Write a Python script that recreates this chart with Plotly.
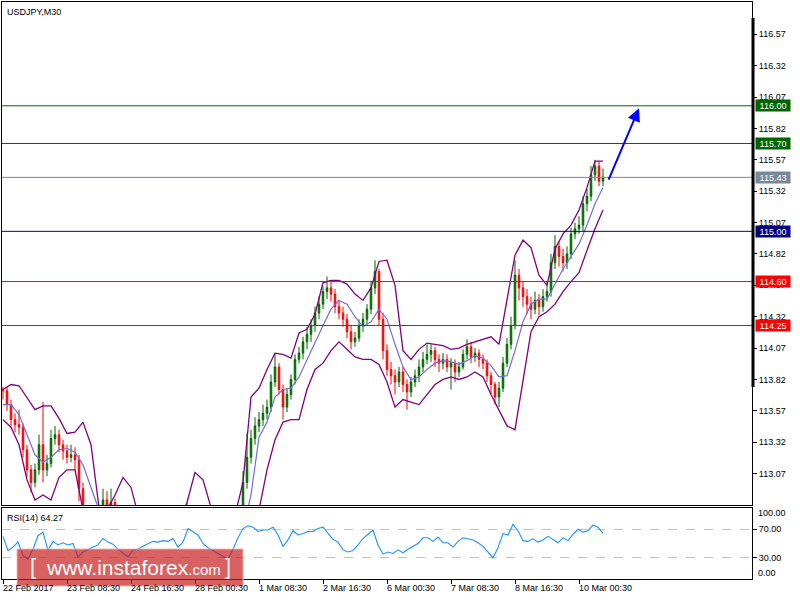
import plotly.graph_objects as go

# ---------------- data (USDJPY M30, 22 Feb - 10 Mar 2017), one candle per 2 hours ----------------
open_ = [113.74, 113.73, 113.62, 113.50, 113.46, 113.44, 113.26, 113.10, 113.00, 113.10,
         113.30, 113.10, 113.15, 113.35, 113.38, 113.30, 113.25, 113.20, 113.22, 113.18,
         112.95, 112.70, 112.62, 112.58, 112.66, 112.75, 112.86, 112.80, 112.84, 112.72,
         112.60, 112.50, 112.45, 112.40, 112.35, 112.30, 112.28, 112.32, 112.38, 112.42,
         112.45, 112.50, 112.55, 112.58, 112.62, 112.66, 112.70, 112.76, 112.72, 112.65,
         112.60, 112.55, 112.50, 112.52, 112.56, 112.60, 112.58, 112.55, 112.58, 112.62,
         112.72, 113.00, 113.20, 113.35, 113.45, 113.50, 113.55, 113.60, 113.80, 113.92,
         113.74, 113.60, 113.70, 113.82, 113.98, 114.03, 114.12, 114.18, 114.25, 114.35,
         114.42, 114.52, 114.55, 114.50, 114.40, 114.35, 114.30, 114.20, 114.12, 114.15,
         114.25, 114.30, 114.38, 114.55, 114.68, 114.30, 114.05, 113.90, 113.85, 113.80,
         113.88, 113.78, 113.72, 113.80, 113.85, 113.92, 113.98, 114.02, 114.05, 113.98,
         113.95, 113.98, 113.92, 113.95, 113.88, 113.92, 114.02, 114.08, 114.00, 114.03,
         113.98, 113.95, 113.85, 113.78, 113.68, 113.75, 113.95, 114.10, 114.25, 114.65,
         114.55, 114.48, 114.42, 114.38, 114.45, 114.40, 114.48, 114.52, 114.75, 114.88,
         114.80, 114.75, 114.82, 114.98, 115.02, 115.05, 115.22, 115.28, 115.45, 115.52,
         115.40]
high = [113.76, 113.76, 113.66, 113.55, 113.58, 113.47, 113.30, 113.14, 113.15, 113.38,
        113.64, 113.22, 113.42, 113.45, 113.42, 113.34, 113.30, 113.30, 113.28, 113.22,
        113.00, 112.74, 112.66, 112.70, 112.80, 112.95, 112.93, 112.95, 112.87, 112.76,
        112.64, 112.55, 112.50, 112.44, 112.40, 112.34, 112.36, 112.42, 112.46, 112.50,
        112.54, 112.60, 112.62, 112.66, 112.70, 112.74, 112.84, 112.79, 112.75, 112.68,
        112.64, 112.58, 112.56, 112.60, 112.65, 112.64, 112.62, 112.62, 112.66, 112.78,
        113.09, 113.39, 113.42, 113.52, 113.56, 113.62, 113.66, 113.86, 114.03, 113.95,
        113.78, 113.75, 113.86, 114.02, 114.08, 114.16, 114.24, 114.30, 114.40, 114.48,
        114.56, 114.64, 114.60, 114.54, 114.45, 114.40, 114.34, 114.25, 114.20, 114.30,
        114.35, 114.42, 114.60, 114.77, 114.70, 114.35, 114.10, 113.96, 113.90, 113.92,
        113.92, 113.82, 113.84, 113.90, 113.98, 114.04, 114.10, 114.10, 114.08, 114.02,
        114.03, 114.02, 113.99, 113.98, 113.96, 114.06, 114.14, 114.12, 114.07, 114.06,
        114.02, 113.98, 113.88, 113.80, 113.80, 114.00, 114.15, 114.32, 114.77, 114.70,
        114.60, 114.54, 114.48, 114.52, 114.50, 114.54, 114.60, 114.82, 114.97, 114.92,
        114.86, 114.88, 115.03, 115.07, 115.12, 115.28, 115.34, 115.52, 115.57, 115.56,
        115.50]
low = [113.66, 113.57, 113.45, 113.40, 113.38, 113.20, 113.04, 112.92, 112.96, 113.06,
       113.00, 113.05, 113.12, 113.30, 113.24, 113.18, 113.15, 113.16, 113.10, 112.85,
       112.62, 112.56, 112.52, 112.54, 112.62, 112.72, 112.74, 112.76, 112.68, 112.55,
       112.45, 112.40, 112.35, 112.30, 112.25, 112.22, 112.24, 112.28, 112.34, 112.38,
       112.40, 112.46, 112.50, 112.54, 112.58, 112.62, 112.66, 112.68, 112.60, 112.55,
       112.50, 112.45, 112.46, 112.50, 112.52, 112.53, 112.50, 112.52, 112.55, 112.58,
       112.68, 112.95, 113.15, 113.30, 113.40, 113.45, 113.50, 113.56, 113.76, 113.70,
       113.50, 113.56, 113.66, 113.78, 113.95, 113.98, 114.06, 114.12, 114.20, 114.30,
       114.38, 114.46, 114.44, 114.35, 114.30, 114.24, 114.15, 114.06, 114.08, 114.12,
       114.20, 114.26, 114.34, 114.50, 114.25, 113.98, 113.85, 113.78, 113.70, 113.76,
       113.72, 113.58, 113.68, 113.76, 113.80, 113.88, 113.94, 113.96, 113.92, 113.88,
       113.90, 113.88, 113.74, 113.80, 113.84, 113.90, 113.98, 113.95, 113.96, 113.92,
       113.90, 113.80, 113.70, 113.62, 113.60, 113.72, 113.92, 114.06, 114.22, 114.45,
       114.40, 114.34, 114.30, 114.34, 114.33, 114.36, 114.44, 114.48, 114.70, 114.72,
       114.68, 114.70, 114.78, 114.94, 114.98, 115.00, 115.16, 115.24, 115.40, 115.36,
       115.36]
close = [113.73, 113.62, 113.50, 113.46, 113.44, 113.26, 113.10, 113.00, 113.10, 113.30,
         113.10, 113.15, 113.35, 113.38, 113.30, 113.25, 113.20, 113.22, 113.18, 112.95,
         112.70, 112.62, 112.58, 112.66, 112.75, 112.86, 112.80, 112.84, 112.72, 112.60,
         112.50, 112.45, 112.40, 112.35, 112.30, 112.28, 112.32, 112.38, 112.42, 112.45,
         112.50, 112.55, 112.58, 112.62, 112.66, 112.70, 112.76, 112.72, 112.65, 112.60,
         112.55, 112.50, 112.52, 112.56, 112.60, 112.58, 112.55, 112.58, 112.62, 112.72,
         113.00, 113.20, 113.35, 113.45, 113.50, 113.55, 113.60, 113.80, 113.92, 113.74,
         113.60, 113.70, 113.82, 113.98, 114.03, 114.12, 114.18, 114.25, 114.35, 114.42,
         114.52, 114.55, 114.50, 114.40, 114.35, 114.30, 114.20, 114.12, 114.15, 114.25,
         114.30, 114.38, 114.55, 114.68, 114.30, 114.05, 113.90, 113.85, 113.80, 113.88,
         113.78, 113.72, 113.80, 113.85, 113.92, 113.98, 114.02, 114.05, 113.98, 113.95,
         113.98, 113.92, 113.95, 113.88, 113.92, 114.02, 114.08, 114.00, 114.03, 113.98,
         113.95, 113.85, 113.78, 113.68, 113.75, 113.95, 114.10, 114.25, 114.65, 114.55,
         114.48, 114.42, 114.38, 114.45, 114.40, 114.48, 114.52, 114.75, 114.88, 114.80,
         114.75, 114.82, 114.98, 115.02, 115.05, 115.22, 115.28, 115.45, 115.52, 115.40,
         115.43]

# Bollinger bands (20), one value every 4 hours
bb_upper = [113.74, 113.78, 113.77, 113.67, 113.58, 113.61, 113.61, 113.51, 113.39, 113.40,
            113.48, 113.30, 112.80, 112.78, 112.90, 113.04, 112.96, 112.72, 112.58, 112.52,
            112.55, 112.62, 112.70, 112.84, 113.08, 113.02, 112.80, 112.72, 112.70, 112.74,
            113.00, 113.68, 113.75, 113.90, 114.03, 114.02, 113.99, 114.19, 114.22, 114.34,
            114.59, 114.61, 114.61, 114.58, 114.50, 114.45, 114.55, 114.76, 114.77, 114.57,
            114.05, 113.98, 114.06, 114.11, 114.10, 114.09, 114.06, 114.07, 114.10, 114.12,
            114.14, 114.16, 114.10, 114.45, 114.81, 114.93, 114.87, 114.65, 114.57, 114.86,
            114.98, 115.05, 115.17, 115.35, 115.56, 115.56]
bb_middle = [113.62, 113.62, 113.54, 113.38, 113.22, 113.16, 113.20, 113.26, 113.27, 113.24,
             113.14, 112.96, 112.78, 112.72, 112.76, 112.70, 112.58, 112.45, 112.34, 112.28,
             112.30, 112.38, 112.48, 112.58, 112.68, 112.66, 112.58, 112.52, 112.52, 112.54,
             112.62, 112.90, 113.36, 113.48, 113.68, 113.74, 113.75, 113.84, 113.98, 114.12,
             114.25, 114.38, 114.45, 114.42, 114.32, 114.24, 114.28, 114.38, 114.30, 114.10,
             113.92, 113.82, 113.84, 113.90, 113.95, 113.97, 113.96, 113.94, 113.97, 114.01,
             113.99, 113.93, 113.84, 113.85, 114.05, 114.28, 114.42, 114.46, 114.46, 114.58,
             114.70, 114.80, 114.90, 115.05, 115.22, 115.35]
bb_lower = [113.50, 113.44, 113.30, 113.02, 112.86, 112.90, 112.86, 113.04, 113.10, 113.10,
            112.78, 112.55, 112.50, 112.55, 112.60, 112.40, 112.20, 112.10, 112.05, 112.02,
            112.05, 112.12, 112.22, 112.32, 112.28, 112.30, 112.34, 112.36, 112.38, 112.36,
            112.30, 112.15, 112.78, 113.10, 113.34, 113.48, 113.50, 113.50, 113.74, 113.90,
            113.95, 114.05, 114.12, 114.06, 114.00, 113.98, 113.98, 113.94, 113.80, 113.60,
            113.66, 113.64, 113.62, 113.70, 113.78, 113.82, 113.84, 113.82, 113.84, 113.88,
            113.84, 113.70, 113.58, 113.45, 113.42, 113.80, 114.20, 114.32, 114.36, 114.42,
            114.52, 114.60, 114.67, 114.85, 115.02, 115.17]

# RSI(14), one value every 2.5 hours
rsi = [60, 40, 45, 52, 33, 28, 42, 61, 66, 40,
       53, 48, 51, 48, 50, 31, 38, 42, 45, 48,
       57, 52, 49, 42, 37, 31, 41, 42, 46, 50,
       53, 52, 54, 53, 57, 45, 52, 71, 66, 62,
       50, 44, 40, 36, 31, 28, 42, 58, 71, 75,
       73, 67, 69, 69, 73, 62, 46, 55, 68, 62,
       64, 67, 67, 71, 73, 65, 56, 52, 41, 38,
       40, 48, 57, 63, 69, 48, 35, 38, 36, 41,
       37, 42, 46, 50, 58, 58, 53, 59, 51, 51,
       45, 53, 58, 56, 55, 51, 46, 38, 30, 44,
       64, 62, 77, 68, 54, 53, 57, 52, 55, 60,
       55, 51, 58, 54, 63, 70, 66, 68, 76, 73,
       64.27]

# horizontal levels and their label colours
levels = [116.00, 115.70, 115.43, 115.00, 114.60, 114.25]
level_colors = ["#006400", "#006400", "#778899", "#000080", "#ff0000", "#ff0000"]

# time axis labels (every 64 half-hour bars)
time_labels = ["22 Feb 2017", "23 Feb 08:30", "24 Feb 16:30", "28 Feb 00:30", "1 Mar 08:30",
               "2 Mar 16:30", "6 Mar 00:30", "7 Mar 08:30", "8 Mar 16:30", "10 Mar 00:30"]
price_ticks = [113.07, 113.32, 113.57, 113.82, 114.07, 114.32, 114.57, 114.82,
               115.07, 115.32, 115.57, 115.82, 116.07, 116.32, 116.57]

# analyst forecast arrow (bar index, price)
arrow_from = (605, 115.40)
arrow_to = (636, 115.98)

# bar indices (half-hour bars) of each sample
candle_t = list(range(0, 4 * len(close), 4))
band_t = list(range(0, 8 * len(bb_upper), 8))
rsi_t = list(range(0, 5 * len(rsi), 5))
label_t = list(range(0, 64 * len(time_labels), 64))

FONT = "Liberation Sans, Arial, sans-serif"

fig = go.Figure()
fig.add_trace(go.Candlestick(
    x=candle_t, open=open_, high=high, low=low, close=close,
    increasing=dict(line=dict(color="#006400", width=1), fillcolor="#008000"),
    decreasing=dict(line=dict(color="#ff0000", width=1), fillcolor="#ff0000"),
    whiskerwidth=0, showlegend=False, hoverinfo="skip", xaxis="x", yaxis="y"))
fig.add_trace(go.Scatter(x=band_t, y=bb_upper, mode="lines", line=dict(color="#800080", width=1.3),
                         showlegend=False, hoverinfo="skip", xaxis="x", yaxis="y"))
fig.add_trace(go.Scatter(x=band_t, y=bb_lower, mode="lines", line=dict(color="#800080", width=1.3),
                         showlegend=False, hoverinfo="skip", xaxis="x", yaxis="y"))
fig.add_trace(go.Scatter(x=band_t, y=bb_middle, mode="lines", line=dict(color="#6f6fe0", width=1.2),
                         showlegend=False, hoverinfo="skip", xaxis="x", yaxis="y"))
fig.add_trace(go.Scatter(x=rsi_t, y=rsi, mode="lines", line=dict(color="#1e90ff", width=1.1),
                         showlegend=False, hoverinfo="skip", xaxis="x2", yaxis="y2"))

main_dom = [(579 - 505) / 577, 1.0]
rsi_dom = [0.0, (579 - 508) / 577]

fig.update_layout(
    width=800, height=600,
    margin=dict(l=2, r=48, t=2, b=21, pad=0, autoexpand=False),
    paper_bgcolor="white", plot_bgcolor="white",
    font=dict(family=FONT, size=9, color="black"),
    showlegend=False,
    boxgap=0.45,
    xaxis=dict(domain=[0, 1], anchor="y", range=[-1, 749], showgrid=False, zeroline=False,
               showticklabels=False, ticks="", showline=True, mirror=True, linecolor="black",
               linewidth=1, rangeslider=dict(visible=False)),
    yaxis=dict(domain=main_dom, anchor="x", side="right", range=[112.82, 116.827],
               tickvals=price_ticks, ticktext=[f"{v:.2f}" for v in price_ticks],
               ticks="outside", ticklen=4, tickcolor="black", showgrid=False, zeroline=False,
               showline=True, mirror=True, linecolor="black", linewidth=1,
               tickfont=dict(family=FONT, size=9, color="black")),
    xaxis2=dict(domain=[0, 1], anchor="y2", matches="x", range=[-1, 749], showgrid=False,
                zeroline=False, tickvals=label_t, showticklabels=False, ticks="outside",
                ticklen=4, tickcolor="black", showline=True, mirror=True, linecolor="black",
                linewidth=1),
    yaxis2=dict(domain=rsi_dom, anchor="x2", side="right", range=[0, 100],
                tickvals=[70, 30], ticktext=["70.00", "30.00"], ticks="outside", ticklen=4,
                tickcolor="black", showgrid=True, gridcolor="#c0c0c0", griddash="dash",
                gridwidth=1, zeroline=False, showline=True, mirror=True, linecolor="black",
                linewidth=1, tickfont=dict(family=FONT, size=9, color="black")),
)

shapes = []
annotations = []

# horizontal support / resistance levels with coloured price boxes
for lv, col in zip(levels, level_colors):
    shapes.append(dict(type="line", xref="paper", x0=0, x1=1, yref="y", y0=lv, y1=lv,
                       line=dict(color=col, width=1), layer="above"))
    annotations.append(dict(xref="paper", x=1, xanchor="left", xshift=3, yref="y", y=lv,
                            yanchor="middle", text=f"{lv:.2f}", showarrow=False,
                            bgcolor=col, borderpad=1, width=32, height=9,
                            font=dict(family=FONT, size=9, color="white")))

# thick segment on the price scale
shapes.append(dict(type="rect", xref="paper", xsizemode="pixel", xanchor=1, x0=-0.5, x1=2.5,
                   yref="y", y0=113.76, y1=116.70, fillcolor="black", line=dict(width=0),
                   layer="above"))

# forecast arrow
annotations.append(dict(x=arrow_to[0], y=arrow_to[1], xref="x", yref="y",
                        ax=arrow_from[0], ay=arrow_from[1], axref="x", ayref="y",
                        showarrow=True, arrowhead=2, arrowsize=1.3, arrowwidth=2,
                        arrowcolor="#0000ff", text=""))

# titles
annotations.append(dict(xref="paper", x=0, xshift=3, yref="paper", y=1, yshift=-3,
                        xanchor="left", yanchor="top", text="USDJPY,M30", showarrow=False,
                        font=dict(family=FONT, size=9, color="black")))
annotations.append(dict(xref="paper", x=0, xshift=3, yref="paper", y=rsi_dom[1], yshift=-3,
                        xanchor="left", yanchor="top", text="RSI(14) 64.27", showarrow=False,
                        font=dict(family=FONT, size=9, color="black")))

# RSI scale end labels
annotations.append(dict(xref="paper", x=1, xshift=4, xanchor="left", yref="paper",
                        y=(579 - 513) / 577, yanchor="middle", text="100.00", showarrow=False,
                        font=dict(family=FONT, size=9, color="black")))
annotations.append(dict(xref="paper", x=1, xshift=4, xanchor="left", yref="paper",
                        y=(579 - 573) / 577, yanchor="middle", text="0.00", showarrow=False,
                        font=dict(family=FONT, size=9, color="black")))

# time labels, left-aligned at their ticks
for t, lab in zip(label_t, time_labels):
    annotations.append(dict(xref="x2", x=t, xanchor="left", xshift=-2, yref="paper", y=0,
                            yanchor="top", yshift=-2, text=lab, showarrow=False,
                            font=dict(family=FONT, size=9, color="black")))

# watermark
shapes.append(dict(type="rect", xref="paper", yref="paper",
                   x0=(17 - 2) / 750, x1=(243 - 2) / 750,
                   y0=(579 - 586) / 577, y1=(579 - 549) / 577,
                   fillcolor="rgba(200,30,30,0.70)", line=dict(color="rgba(240,180,180,0.9)", width=1),
                   layer="above"))
annotations.append(dict(xref="paper", yref="paper", x=(33 - 2) / 750, y=(579 - 566) / 577,
                        xanchor="center", yanchor="middle", text="[", showarrow=False,
                        font=dict(family=FONT, size=22, color="rgba(255,255,255,0.9)")))
annotations.append(dict(xref="paper", yref="paper", x=(228 - 2) / 750, y=(579 - 566) / 577,
                        xanchor="center", yanchor="middle", text="]", showarrow=False,
                        font=dict(family=FONT, size=22, color="rgba(255,255,255,0.9)")))
annotations.append(dict(xref="paper", yref="paper", x=(44 - 2) / 750, y=(579 - 567) / 577,
                        xanchor="left", yanchor="middle",
                        text="www.instaforex<span style='font-size:15px'>.com</span>",
                        showarrow=False, font=dict(family=FONT, size=21, color="white")))

fig.update_layout(shapes=shapes, annotations=annotations)

fig.write_html("out.html", config={"displayModeBar": False},
               post_script="document.body.style.margin='0px';document.body.style.overflow='hidden';")
